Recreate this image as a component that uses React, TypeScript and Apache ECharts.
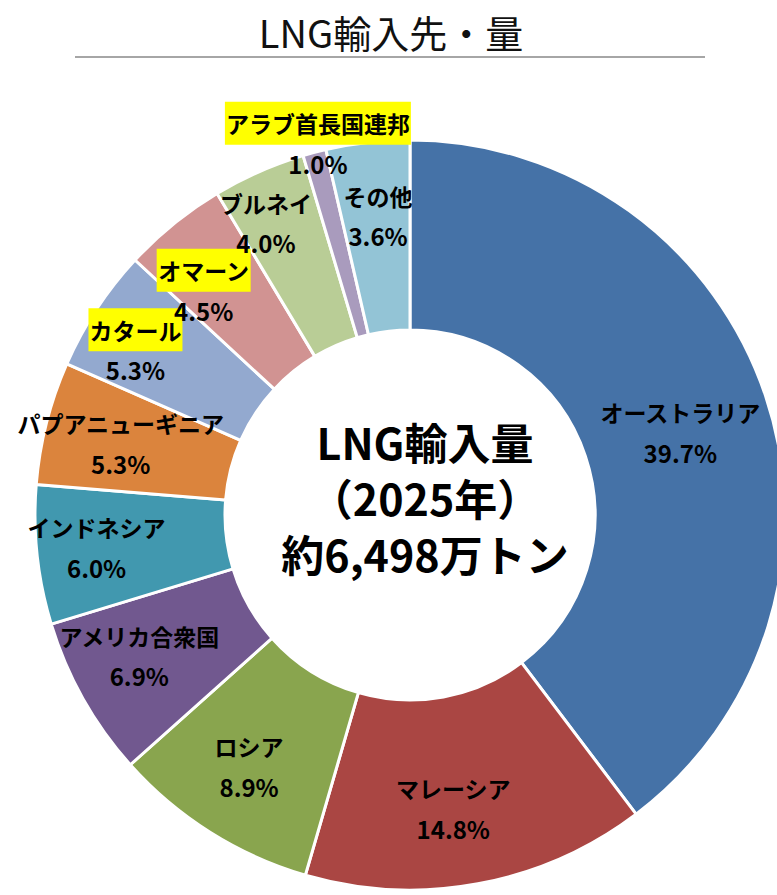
import React, { useEffect, useRef } from "react";
import * as echarts from "echarts";

const countries = [
  "オーストラリア",
  "マレーシア",
  "ロシア",
  "アメリカ合衆国",
  "インドネシア",
  "パプアニューギニア",
  "カタール",
  "オマーン",
  "ブルネイ",
  "アラブ首長国連邦",
  "その他",
];
const shares = [39.7, 14.8, 8.9, 6.9, 6.0, 5.3, 5.3, 4.5, 4.0, 1.0, 3.6];
const colors = [
  "#4572A7",
  "#AA4643",
  "#89A54E",
  "#71588F",
  "#4198AF",
  "#DB843D",
  "#93A9CF",
  "#D19392",
  "#B9CD96",
  "#A99BBD",
  "#93C4D6",
];
const highlighted = ["カタール", "オマーン", "アラブ首長国連邦"];
const labelOffsets: number[][] = [
  [2, 5],
  [-8, 13],
  [-10, 10],
  [-24, 0],
  [-32, 0],
  [-15, -4],
  [-38, -12],
  [-28, -7],
  [-30, -35],
  [-20, -100],
  [0, -20],
];
const titleText = "LNG輸入先・量";
const centerLines = ["LNG輸入量", "（2025年）", "約6,498万トン"];

const FONT = "'Noto Sans CJK JP', 'Noto Sans', sans-serif";

export default function App() {
  const ref = useRef<HTMLDivElement>(null);
  useEffect(() => {
    document.body.style.margin = "0";
    const chart = echarts.init(ref.current!, null, { renderer: "svg" });
    const data = countries.map((name, i) => ({
      name,
      value: shares[i],
      itemStyle: { color: colors[i] },
      label: {
        offset: labelOffsets[i],
        formatter: () =>
          `{${highlighted.includes(name) ? "hy" : "n"}|${name}}\n{p|${shares[i].toFixed(1)}%}`,
      },
    }));
    chart.setOption({
      animation: false,
      backgroundColor: "#ffffff",
      graphic: [
        {
          type: "text",
          x: 391,
          y: 31,
          style: {
            text: titleText,
            fontSize: 38,
            fontFamily: FONT,
            fill: "#111",
            align: "center",
            verticalAlign: "middle",
          },
        },
        {
          type: "line",
          shape: { x1: 75, y1: 57, x2: 705, y2: 57 },
          style: { stroke: "#a6a6a6", lineWidth: 2 },
        },
        ...centerLines.map((t, i) => ({
          type: "text",
          x: 425,
          y: 441 + i * 56,
          z: 100,
          style: {
            text: t,
            fontSize: 43,
            fontWeight: "bold",
            fontFamily: FONT,
            fill: "#000",
            align: "center",
            verticalAlign: "middle",
          },
        })),
      ],
      series: [
        {
          type: "pie",
          center: [410, 515],
          radius: [185, 375],
          startAngle: 90,
          clockwise: true,
          avoidLabelOverlap: false,
          labelLayout: { hideOverlap: false },
          itemStyle: { borderColor: "#ffffff", borderWidth: 3 },
          label: {
            show: true,
            position: "inside",
            color: "#000",
            fontFamily: FONT,
            fontWeight: "bold",
            rich: {
              n: {
                fontSize: 23,
                fontWeight: "bold",
                fontFamily: FONT,
                color: "#000",
                lineHeight: 44,
                padding: [10, 1, 10, 1],
              },
              hy: {
                fontSize: 23,
                fontWeight: "bold",
                fontFamily: FONT,
                color: "#000",
                backgroundColor: "#FFFF00",
                lineHeight: 44,
                padding: [10, 1, 10, 1],
              },
              p: {
                fontSize: 24,
                fontWeight: "bold",
                fontFamily: FONT,
                color: "#000",
                lineHeight: 36,
              },
            },
          },
          labelLine: { show: false },
          emphasis: { disabled: true },
          data,
        },
      ],
    });
    return () => chart.dispose();
  }, []);
  return (
    <div
      ref={ref}
      style={{ position: "absolute", left: 0, top: 0, width: 777, height: 895 }}
    />
  );
}
